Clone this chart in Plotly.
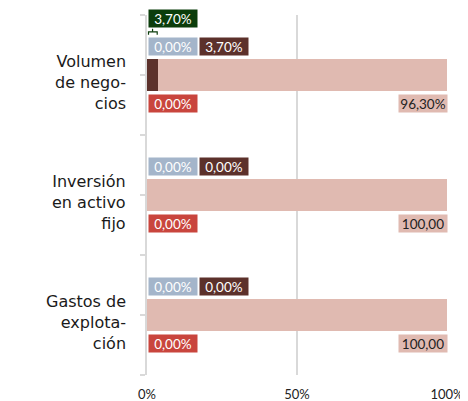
import plotly.graph_objects as go

# ── Data ──────────────────────────────────────────────────────────────────────
CATEGORIES = ["Volumen<br>de nego-<br>cios", "Inversión<br>en activo<br>fijo", "Gastos de<br>explota-<br>ción"]
POS = [0, 1, 2]

S_BLUE = [0.0, 0.0, 0.0]
S_BROWN = [3.70, 0.0, 0.0]
S_PINK = [96.30, 100.0, 100.0]
S_RED = [0.0, 0.0, 0.0]

LBL_BLUE = ["0,00%", "0,00%", "0,00%"]
LBL_BROWN = ["3,70%", "0,00%", "0,00%"]
LBL_PINK = ["96,30%", "100,00", "100,00"]
LBL_RED = ["0,00%", "0,00%", "0,00%"]
LBL_GREEN = ["3,70%", None, None]

X_TICKS = [0, 50, 100]
X_TICKTEXT = ["0%", "50%", "100%"]

COLORS = {
    "blue": "#a4b5ca",
    "brown": "#5c312b",
    "pink": "#e0bab1",
    "red": "#c9453d",
    "green": "#0b3d0b",
}

NUM_FONT = "Lato, 'Open Sans', sans-serif"
CAT_FONT = "'DejaVu Sans', sans-serif"

fig = go.Figure()
for vals, key in [(S_BLUE, "blue"), (S_BROWN, "brown"), (S_PINK, "pink"), (S_RED, "red")]:
    fig.add_trace(go.Bar(
        x=vals, y=POS, orientation="h", width=0.26,
        marker=dict(color=COLORS[key], line=dict(width=0)),
        hoverinfo="skip", showlegend=False,
    ))


def box(text, y, x, anchor, xshift, yshift, bg, fg="white"):
    fig.add_annotation(
        text=text, x=x, y=y, xref="x", yref="y",
        xanchor=anchor, yanchor="middle", xshift=xshift, yshift=yshift,
        showarrow=False, bgcolor=bg, borderpad=1, width=46, height=15,
        font=dict(family=NUM_FONT, size=13.5, color=fg),
    )


for i in POS:
    box(LBL_BLUE[i], POS[i], 0, "left", 1, 29, COLORS["blue"])
    box(LBL_BROWN[i], POS[i], 0, "left", 52, 29, COLORS["brown"])
    box(LBL_RED[i], POS[i], 0, "left", 1, -28, COLORS["red"])
    box(LBL_PINK[i], POS[i], 100, "right", 1, -28, COLORS["pink"], "#222222")
    if LBL_GREEN[i]:
        box(LBL_GREEN[i], POS[i], 0, "left", 1, 57, COLORS["green"])
        # bracket over the brown segment
        yb = POS[i] - 0.36
        fig.add_shape(type="path", xref="x", yref="y",
                      path=f"M 0.5,{yb + 0.025} L 0.5,{yb} L {S_BROWN[i] - 0.3},{yb} L {S_BROWN[i] - 0.3},{yb + 0.025}",
                      line=dict(color=COLORS["green"], width=1.2))
        fig.add_shape(type="line", xref="x", yref="y",
                      x0=S_BROWN[i] / 2, x1=S_BROWN[i] / 2, y0=yb, y1=yb - 0.025,
                      line=dict(color=COLORS["green"], width=1.2))
    # category label
    fig.add_annotation(
        text=CATEGORIES[i], x=0, y=POS[i], xref="paper", yref="y",
        xanchor="right", yanchor="middle", align="right", xshift=-19, yshift=-7,
        showarrow=False, font=dict(family=CAT_FONT, size=16, color="#1a1a1a"),
    )

# the page body adds an 8px offset, so margins are trimmed by that amount
fig.update_layout(
    barmode="stack",
    width=468, height=401,
    margin=dict(l=139, r=29, t=7, b=34),
    plot_bgcolor="white", paper_bgcolor="white",
    bargap=0,
)
fig.update_xaxes(
    range=[0, 100], tickvals=X_TICKS, ticktext=X_TICKTEXT, automargin=False,
    showgrid=True, gridcolor="#d9d9d9", gridwidth=1.5, zeroline=False,
    showline=False, ticks="", ticklabelstandoff=10,
    tickfont=dict(family=NUM_FONT, size=13, color="#222222"),
)
fig.update_yaxes(
    range=[2.5, -0.5], tickvals=[-0.5, 0, 0.5, 1, 1.5, 2, 2.5], ticktext=[""] * 7,
    automargin=False,
    showgrid=False, zeroline=False, showline=True, linecolor="#d9d9d9", linewidth=1.5,
    ticks="outside", ticklen=5, tickcolor="#d9d9d9", tickwidth=1.5,
)

fig.write_html("out.html")
